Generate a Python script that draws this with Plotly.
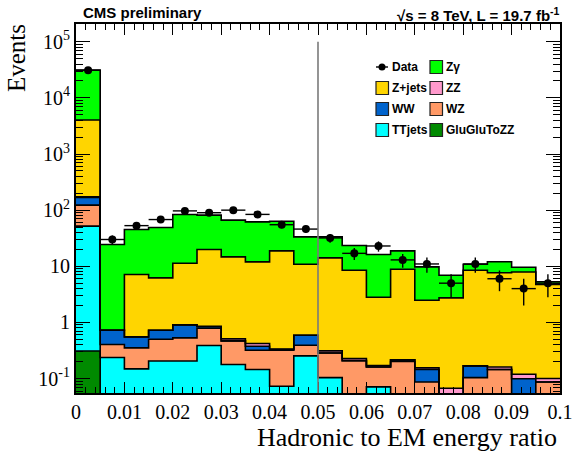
import numpy as np
import plotly.graph_objects as go

# Histogram binning of the hadronic-to-EM energy ratio
edges = [0.0, 0.005, 0.01, 0.015, 0.02, 0.025, 0.03, 0.035, 0.04, 0.045, 0.05,
         0.055, 0.06, 0.065, 0.07, 0.075, 0.08, 0.085, 0.09, 0.095, 0.1]

# Expected events per bin for each process
gluglu = [0.31, 0, 0, 0, 0, 0, 0, 0, 0, 0, 0, 0, 0, 0, 0, 0, 0, 0, 0, 0]
ttjets = [51.7, 0.237, 0.149, 0.206, 0.206, 0.387, 0.178, 0.145, 0.073, 0.254,
          0.104, 0, 0.071, 0, 0, 0, 0, 0, 0, 0]
wz = [71, 0.167, 0.203, 0.296, 0.325, 0.402, 0.291, 0.175, 0.247, 0.139,
      0.182, 0.209, 0.090, 0.201, 0.087, 0, 0.104, 0.145, 0, 0.087]
ww = [45, 0.322, 0.200, 0.224, 0.373, 0.050, 0, 0.057, 0.010, 0.199,
      0, 0, 0, 0.014, 0.058, 0, 0.064, 0, 0.099, 0]
zz = [5, 0, 0, 0, 0, 0.017, 0.040, 0.043, 0.007, 0,
      0.025, 0.018, 0.009, 0, 0.010, 0.067, 0, 0.016, 0.020, 0.013]
zjets = [3850, 0, 6.58, 5.49, 10.45, 19.04, 14.19, 11.58, 18.46, 10.31,
         13.79, 8.28, 2.64, 8.66, 2.33, 2.67, 8.34, 7.5, 7.78, 4.63]
zgamma = [27300, 23.7, 38.1, 42.9, 72.3, 61.5, 51.6, 49.9, 44.8, 22.5,
          19.3, 14.9, 13.4, 9.93, 7.29, 4.19, 2.39, 4.35, 1.7, 0.57]

# Observed data and its statistical uncertainty
data = [31000, 30, 53, 68, 97, 90, 100, 84, 55, 46,
        32, 17, 23, 13, 11, 5, 11, 6, 4, 5]
data_err = [176, 5.5, 7.3, 8.2, 9.8, 9.5, 10, 9.2, 7.4, 6.8,
            5.7, 4.1, 4.8, 3.6, 3.3, 2.2, 3.3, 2.4, 2.0, 2.2]

# Stack order from bottom to top
stack = [
    ("GluGluToZZ", gluglu, "#008a00"),
    ("TTjets", ttjets, "#00ffff"),
    ("WZ", wz, "#ff9966"),
    ("WW", ww, "#0063cc"),
    ("ZZ", zz, "#ff99cc"),
    ("Z+jets", zjets, "#ffd500"),
    ("Z\u03b3", zgamma, "#00ff00"),
]

x_ticks = [0, 0.01, 0.02, 0.03, 0.04, 0.05, 0.06, 0.07, 0.08, 0.09, 0.1]
x_ticktext = ["0", "0.01", "0.02", "0.03", "0.04", "0.05", "0.06", "0.07", "0.08", "0.09", "0.1"]
y_ticks = [0.1, 1, 10, 100, 1e3, 1e4, 1e5]
y_ticktext = ["10<sup>-1</sup>", "1", "10", "10<sup>2</sup>", "10<sup>3</sup>",
              "10<sup>4</sup>", "10<sup>5</sup>"]

edges_a = np.array(edges)
centers = 0.5 * (edges_a[:-1] + edges_a[1:])
bw = edges_a[1] - edges_a[0]

fig = go.Figure()

for name, vals, col in stack:
    fig.add_trace(go.Bar(
        x=centers, y=vals, width=bw, name=name,
        marker=dict(color=col, line=dict(width=0)),
        showlegend=False,
    ))

# Step outlines on top of each stacked layer
cum = np.zeros(len(centers))
for name, vals, col in stack:
    cum = cum + np.array(vals, dtype=float)
    lvl = np.where(cum > 0, cum, 1e-6)
    fig.add_trace(go.Scatter(
        x=edges, y=list(lvl) + [lvl[-1]], mode="lines",
        line=dict(color="black", width=1.6, shape="hv"),
        showlegend=False, hoverinfo="skip",
    ))

fig.add_trace(go.Scatter(
    x=centers, y=data, mode="markers", name="Data",
    marker=dict(color="black", size=8),
    error_y=dict(type="data", array=data_err, color="black", thickness=1.4, width=0),
    error_x=dict(type="constant", value=bw / 2, color="black", thickness=1.4, width=0),
    showlegend=False,
))

# Plot frame in pixels
PL, PR, PT, PB = 76, 560, 24, 393
W, H = PR - PL, PB - PT


def px(x):
    return (x - PL) / W


def py(y):
    return (PB - y) / H


shapes = [
    dict(type="line", xref="x", yref="y", x0=0.05, x1=0.05, y0=0.01, y1=1e5,
         line=dict(color="#7a7a7a", width=1.6), layer="above"),
]
annotations = []

# Legend, two columns
legend_font = dict(family="Liberation Sans, Arial, sans-serif", size=12, color="black")
col_x = [376, 430]
row_y = [67, 88, 109, 130]
entries = [
    [("Data", None), ("Z+jets", "#ffd500"), ("WW", "#0063cc"), ("TTjets", "#00ffff")],
    [("Z\u03b3", "#00ff00"), ("ZZ", "#ff99cc"), ("WZ", "#ff9966"), ("GluGluToZZ", "#008a00")],
]
for ci, col_entries in enumerate(entries):
    x0 = col_x[ci]
    for ri, (label, color) in enumerate(col_entries):
        yc = row_y[ri]
        if color is None:
            shapes.append(dict(type="line", xref="paper", yref="paper",
                               x0=px(x0), x1=px(x0 + 12), y0=py(yc), y1=py(yc),
                               line=dict(color="black", width=1.4)))
            shapes.append(dict(type="circle", xref="paper", yref="paper",
                               x0=px(x0 + 6 - 3.5), x1=px(x0 + 6 + 3.5),
                               y0=py(yc + 3.5), y1=py(yc - 3.5),
                               fillcolor="black", line=dict(color="black", width=0)))
        else:
            shapes.append(dict(type="rect", xref="paper", yref="paper",
                               x0=px(x0), x1=px(x0 + 12.5), y0=py(yc + 6.5), y1=py(yc - 6.5),
                               fillcolor=color, line=dict(color="#222222", width=1.2)))
        annotations.append(dict(xref="paper", yref="paper", x=px(x0 + 14), y=py(yc),
                                xanchor="left", yanchor="middle", showarrow=False,
                                text="<b>%s</b>" % label, font=legend_font))

title_font = dict(family="Liberation Sans, Arial, sans-serif", size=15, color="black")
annotations.append(dict(xref="paper", yref="paper", x=px(81), y=py(13),
                        xanchor="left", yanchor="middle", showarrow=False,
                        text="<b>CMS preliminary</b>", font=title_font))
annotations.append(dict(xref="paper", yref="paper", x=px(562), y=py(14),
                        xanchor="right", yanchor="middle", showarrow=False,
                        text="<b>\u221as = 8 TeV, L = 19.7 fb<sup>-1</sup></b>", font=title_font))

serif = "Liberation Serif, Times New Roman, serif"
annotations.append(dict(xref="paper", yref="paper", x=px(17), y=py(58),
                        xanchor="center", yanchor="middle", showarrow=False,
                        text="Events", textangle=-90,
                        font=dict(family=serif, size=25, color="black")))
annotations.append(dict(xref="paper", yref="paper", x=px(559), y=py(437),
                        xanchor="right", yanchor="middle", showarrow=False,
                        text="Hadronic to EM energy ratio",
                        font=dict(family=serif, size=26, color="black")))

y_minor = [m * 10.0 ** e for e in range(-2, 6) for m in range(2, 10)]
x_minor = [round(0.002 * i, 4) for i in range(51) if i % 5 != 0]

fig.update_layout(
    width=573, height=457,
    margin=dict(l=PL, r=573 - PR, t=PT, b=457 - PB, autoexpand=False),
    paper_bgcolor="white", plot_bgcolor="white",
    barmode="stack", bargap=0, showlegend=False,
    shapes=shapes, annotations=annotations,
    font=dict(family=serif, size=20, color="black"),
)
fig.update_xaxes(
    range=[0, 0.1], showgrid=False, zeroline=False, automargin=False,
    showline=True, linecolor="black", linewidth=2, mirror="allticks",
    ticks="inside", ticklen=11, tickwidth=1, tickcolor="black",
    tickmode="array", tickvals=x_ticks, ticktext=x_ticktext,
    tickfont=dict(family=serif, size=20),
    minor=dict(ticks="inside", ticklen=6, tickwidth=1, tickcolor="black",
               tickmode="array", tickvals=x_minor),
)
fig.update_yaxes(
    type="log", range=[np.log10(0.0553), np.log10(2.07e5)],
    showgrid=False, zeroline=False, automargin=False,
    showline=True, linecolor="black", linewidth=2, mirror="allticks",
    ticks="inside", ticklen=14, tickwidth=1, tickcolor="black",
    tickmode="array", tickvals=y_ticks, ticktext=y_ticktext,
    tickfont=dict(family=serif, size=20),
    minor=dict(ticks="inside", ticklen=7, tickwidth=1, tickcolor="black",
               tickmode="array", tickvals=y_minor),
)

fig.write_html("out.html")
